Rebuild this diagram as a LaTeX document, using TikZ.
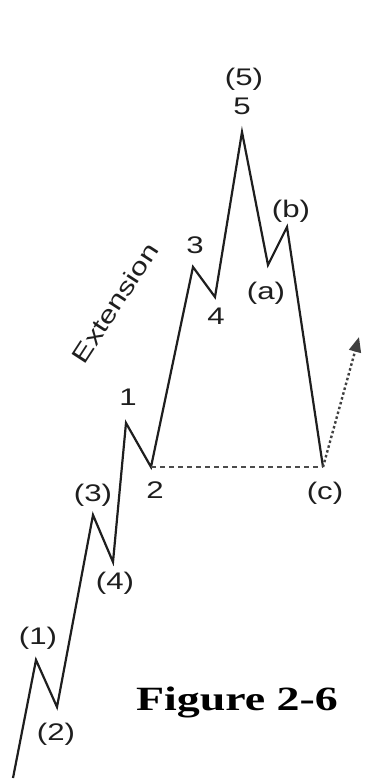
\documentclass[tikz,border=0pt]{standalone}
\usepackage{fontspec}
\setmainfont{Liberation Serif}
\setsansfont{Liberation Sans}
\usetikzlibrary{arrows.meta}
\definecolor{inkgray}{RGB}{30, 30, 30}

% the scan is stretched sideways, so the text is too
\newcommand{\wide}[1]{\scalebox{1.3}[1]{#1}}

\begin{document}
\begin{tikzpicture}[
    x=1pt, y=-1pt,                    % pixel coordinates, y downwards
    wave/.style={line width=2.2pt, color=inkgray, line join=miter},
    base/.style={line width=1.6pt, color=black!70,
                 dash pattern=on 5pt off 4pt},
    trend/.style={-{Triangle[length=15pt, width=12pt]}, line width=2.4pt,
                  color=black!75, dash pattern=on 2.5pt off 2.5pt},
    lbl/.style={font=\sffamily\fontsize{24}{24}\selectfont,
                text=inkgray, inner sep=0pt},
    caption/.style={font=\bfseries\fontsize{34}{34}\selectfont,
                    text=black, inner sep=0pt}
]
\useasboundingbox (0,0) rectangle (367,780);

% wave points
\coordinate (s0) at (13,778);
\coordinate (w1) at (36,660);
\coordinate (w2) at (57,707);
\coordinate (w3) at (93,515);
\coordinate (w4) at (113,562);
\coordinate (i1) at (126,423);
\coordinate (i2) at (151,467);
\coordinate (i3) at (193,267);
\coordinate (i4) at (215,297);
\coordinate (i5) at (242,132);
\coordinate (ca) at (268,265);
\coordinate (cb) at (287,227);
\coordinate (cc) at (323,467);
\coordinate (up) at (359,337);

\draw [wave] (s0) -- (w1) -- (w2) -- (w3) -- (w4) -- (i1) -- (i2)
             -- (i3) -- (i4) -- (i5) -- (ca) -- (cb) -- (cc);
\draw [base]  (i2) -- (cc);
\draw [trend] (cc) -- (up);

% labels
\node (l1)  [lbl] at (38,638)  {\wide{(1)}};
\node (l2)  [lbl] at (56,734)  {\wide{(2)}};
\node (l3)  [lbl] at (93,495)  {\wide{(3)}};
\node (l4)  [lbl] at (115,583) {\wide{(4)}};
\node (n1)  [lbl] at (128,397) {\wide{1}};
\node (n2)  [lbl] at (155,490) {\wide{2}};
\node (n3)  [lbl] at (195,245) {\wide{3}};
\node (n4)  [lbl] at (216,316) {\wide{4}};
\node (n5)  [lbl] at (242,106) {\wide{5}};
\node (l5)  [lbl] at (244,79)  {\wide{(5)}};
\node (la)  [lbl] at (266,293) {\wide{(a)}};
\node (lb)  [lbl] at (291,211) {\wide{(b)}};
\node (lc)  [lbl] at (325,493) {\wide{(c)}};
\node (ext) [lbl, rotate=57] at (115,303) {\wide{Extension}};

\node (fig) [caption] at (237,702) {\scalebox{1.35}[1]{Figure 2-6}};
\end{tikzpicture}
\end{document}
